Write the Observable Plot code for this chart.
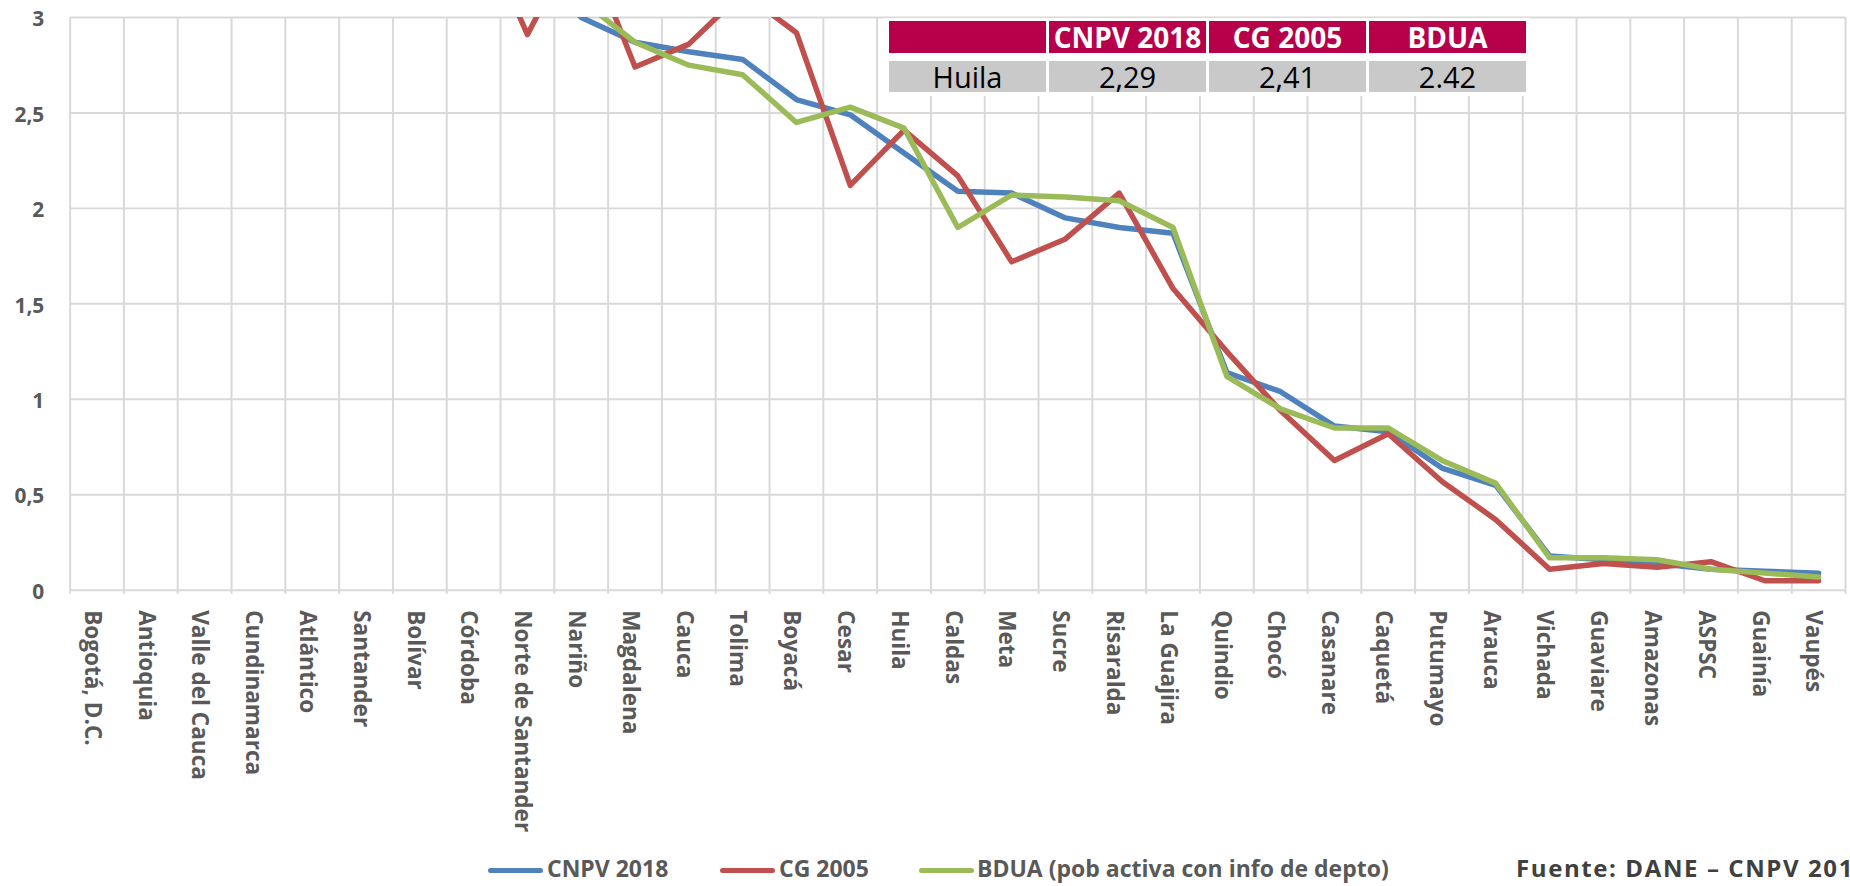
<!DOCTYPE html>
<html><head><meta charset="utf-8">
<script src="https://cdn.jsdelivr.net/npm/d3@7"></script>
<script src="https://cdn.jsdelivr.net/npm/@observablehq/plot@0.6"></script>
<style>
html,body{margin:0;padding:0;background:#fff;overflow:hidden;width:1850px;height:886px;font-family:"Open Sans",sans-serif;}
#wrap{position:relative;width:1850px;height:886px;overflow:hidden;}
#chart svg{display:block;}
.tbl-bg{position:absolute;background:#fff;}
.cell{position:absolute;display:flex;align-items:center;justify-content:center;white-space:nowrap;}
.hdr{background:#B7004A;color:#fff;font-weight:700;font-size:28px;}
.dat{background:#C9C9C9;color:#000;font-size:29px;}
.leg-line{position:absolute;height:5px;border-radius:3px;}
.leg-text{position:absolute;font-size:23px;font-weight:700;color:#595959;line-height:22px;white-space:nowrap;}
</style></head>
<body><div id="wrap"><div id="chart"></div></div>
<script>
const categories = ["Bogotá, D.C.","Antioquia","Valle del Cauca","Cundinamarca","Atlántico","Santander","Bolívar","Córdoba","Norte de Santander","Nariño","Magdalena","Cauca","Tolima","Boyacá","Cesar","Huila","Caldas","Meta","Sucre","Risaralda","La Guajira","Quindio","Chocó","Casanare","Caquetá","Putumayo","Arauca","Vichada","Guaviare","Amazonas","ASPSC","Guainía","Vaupés"];
const cnpv2018 = [15.4,13.2,9.3,6.5,5.5,4.6,4.3,3.7,3.3,3.0,2.87,2.82,2.78,2.57,2.49,2.29,2.09,2.08,1.95,1.90,1.87,1.14,1.04,0.86,0.83,0.64,0.55,0.18,0.16,0.14,0.11,0.10,0.09];
const cg2005 = [16.4,13.7,10.0,5.6,5.2,4.7,4.6,3.55,2.91,3.45,2.74,2.86,3.13,2.92,2.12,2.41,2.17,1.72,1.84,2.08,1.58,1.25,0.94,0.68,0.82,0.57,0.37,0.11,0.14,0.12,0.15,0.05,0.05];
const bdua = [15.5,13.0,9.2,5.5,5.4,4.3,4.5,3.9,3.3,3.09,2.87,2.75,2.70,2.45,2.53,2.42,1.90,2.07,2.06,2.04,1.90,1.12,0.95,0.85,0.85,0.68,0.56,0.17,0.17,0.16,0.11,0.09,0.07];
const seriesNames = ["CNPV 2018","CG 2005","BDUA (pob activa con info de depto)"];
const seriesColors = ["#4F81BD","#C0504D","#9BBB59"];
const yTicks = [0,0.5,1,1.5,2,2.5,3];
const tableHeaders = ["","CNPV 2018","CG 2005","BDUA"];
const tableRow = ["Huila","2,29","2,41","2.42"];
const sourceText = "Fuente: DANE – CNPV 2018";

const data = [];
[cnpv2018, cg2005, bdua].forEach((arr, s) => arr.forEach((v, i) => data.push({series: seriesNames[s], i, cat: categories[i], value: v})));
const idx = categories.map((_, i) => i);
const bounds = d3.range(categories.length + 1).map(k => k - 0.5);

const plot = Plot.plot({
  width: 1860, height: 850,
  marginLeft: 70, marginRight: 5, marginTop: 17, marginBottom: 257,
  style: {fontFamily: '"Open Sans", sans-serif', background: "transparent", overflow: "visible"},
  x: {type: "linear", domain: [-0.5, categories.length - 0.5], axis: null},
  y: {domain: [0, 3], axis: null},
  color: {domain: seriesNames, range: seriesColors},
  marks: [
    Plot.ruleY(yTicks, {stroke: "#D9D9D9", strokeWidth: 2}),
    Plot.ruleX(bounds, {y1: 0, y2: 3, stroke: "#D9D9D9", strokeWidth: 2}),
    Plot.ruleX(bounds, {y1: 0, y2: 0, stroke: "#D9D9D9", strokeWidth: 2, insetBottom: -4}),
    Plot.line(data, {x: "i", y: "value", z: "series", stroke: "series", strokeWidth: 5.5, clip: true}),
    Plot.text(yTicks, {y: d => d, frameAnchor: "left", textAnchor: "end", dx: -26, dy: 2, text: d => String(d).replace(".", ","), fontSize: 21, fontWeight: "bold", fill: "#595959"}),
    Plot.text(idx, {x: d => d, y: 0, text: i => categories[i], rotate: 90, textAnchor: "start", lineAnchor: "middle", dy: 20, dx: -5, fontSize: 22.7, fontWeight: "bold", fill: "#595959"})
  ]
});
document.getElementById("chart").appendChild(plot);

const wrap = document.getElementById("wrap");
function add(cls, style, text) {
  const el = document.createElement("div");
  el.className = cls;
  Object.assign(el.style, style);
  if (text !== undefined) el.textContent = text;
  wrap.appendChild(el);
  return el;
}
// table
add("tbl-bg", {left: "884px", top: "18px", width: "646px", height: "78px"});
tableHeaders.forEach((h, j) => {
  add("cell hdr", {left: (889 + j * 160) + "px", top: "21px", width: "157px", height: "32px"}, h);
  add("cell dat", {left: (889 + j * 160) + "px", top: "61px", width: "157px", height: "31px"}, tableRow[j]);
});
// legend
const legLine = [488, 720, 919];
const legText = [547, 779, 977];
seriesNames.forEach((n, s) => {
  add("leg-line", {left: legLine[s] + "px", top: "868px", width: "55px", background: seriesColors[s]});
  add("leg-text", {left: legText[s] + "px", top: "857px"}, n);
});
add("leg-text", {left: "1516px", top: "857px", color: "#404040", fontSize: "24px", letterSpacing: "1.6px"}, sourceText);
</script>
</body></html>
